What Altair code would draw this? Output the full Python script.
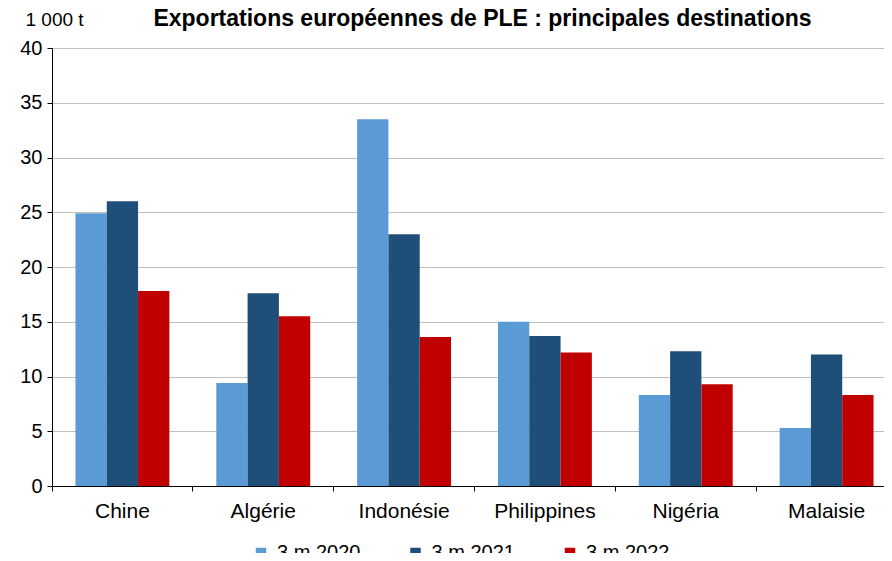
import altair as alt
import pandas as pd

categories = ["Chine", "Algérie", "Indonésie", "Philippines", "Nigéria", "Malaisie"]
series = ["3 m 2020", "3 m 2021", "3 m 2022"]
v2020 = [24.9, 9.4, 33.5, 15.0, 8.3, 5.3]
v2021 = [26.0, 17.6, 23.0, 13.7, 12.3, 12.0]
v2022 = [17.8, 15.5, 13.6, 12.2, 9.3, 8.3]
colors = ["#5B9BD5", "#1F4E79", "#C00000"]

rows = []
for i, c in enumerate(categories):
    for s, vals in zip(series, [v2020, v2021, v2022]):
        rows.append({"pays": c, "periode": s, "valeur": vals[i]})
df = pd.DataFrame(rows)

FONT = "Liberation Sans"
xscale = alt.Scale(paddingInner=0.3333, paddingOuter=0.1667)

bars = alt.Chart(df).mark_bar().encode(
    x=alt.X("pays:N", sort=categories, title=None, scale=xscale,
            axis=alt.Axis(labelAngle=0, labelFontSize=21, labelColor="#000000",
                          labelFont=FONT, domainColor="#000000", ticks=False,
                          labelPadding=14, grid=False, orient="bottom")),
    xOffset=alt.XOffset("periode:N", sort=series,
                        scale=alt.Scale(paddingInner=0, paddingOuter=0)),
    y=alt.Y("valeur:Q", title="1 000 t",
            scale=alt.Scale(domain=[0, 40], nice=False),
            axis=alt.Axis(values=[0, 5, 10, 15, 20, 25, 30, 35, 40],
                          labelFontSize=20, labelFont=FONT, labelColor="#000000",
                          domainColor="#000000", tickColor="#000000", tickSize=5,
                          labelPadding=5, gridColor="#C0C0C0", gridWidth=1,
                          titleAngle=0, titleX=-27, titleY=-23, titleAlign="left",
                          titleBaseline="alphabetic", titleFont=FONT,
                          titleFontSize=19, titleFontWeight="normal",
                          titleColor="#000000")),
    color=alt.Color("periode:N", sort=series,
                    scale=alt.Scale(domain=series, range=colors),
                    legend=alt.Legend(title=None, orient="none", direction="horizontal",
                                      legendX=199, legendY=495, padding=0,
                                      symbolType="square", symbolSize=110,
                                      symbolStrokeWidth=0, labelFont=FONT,
                                      labelFontSize=20, labelColor="#000000",
                                      labelOffset=6, columnPadding=44.5)),
)

ticks_layer = alt.Chart(df).mark_bar(opacity=0).encode(
    x=alt.X("pays:N", sort=categories, title=None, scale=xscale,
            axis=alt.Axis(labels=False, domain=False, tickColor="#000000", tickSize=5,
                          bandPosition=-0.25, grid=False, orient="bottom")),
)

chart = alt.layer(bars, ticks_layer).resolve_axis(x="independent").properties(
    width=845, height=438,
    title=alt.TitleParams("Exportations européennes de PLE : principales destinations",
                          font=FONT, fontSize=23, fontWeight="bold", color="#000000",
                          anchor="middle", dx=8, baseline="alphabetic", offset=-39,
                          frame="group"),
    autosize=alt.AutoSizeParams(type="none"),
    padding={"left": 44, "top": 40, "right": -13, "bottom": 67},
).configure_view(stroke=None)

chart.save("out.html", embed_options={"renderer": "svg", "actions": False})
